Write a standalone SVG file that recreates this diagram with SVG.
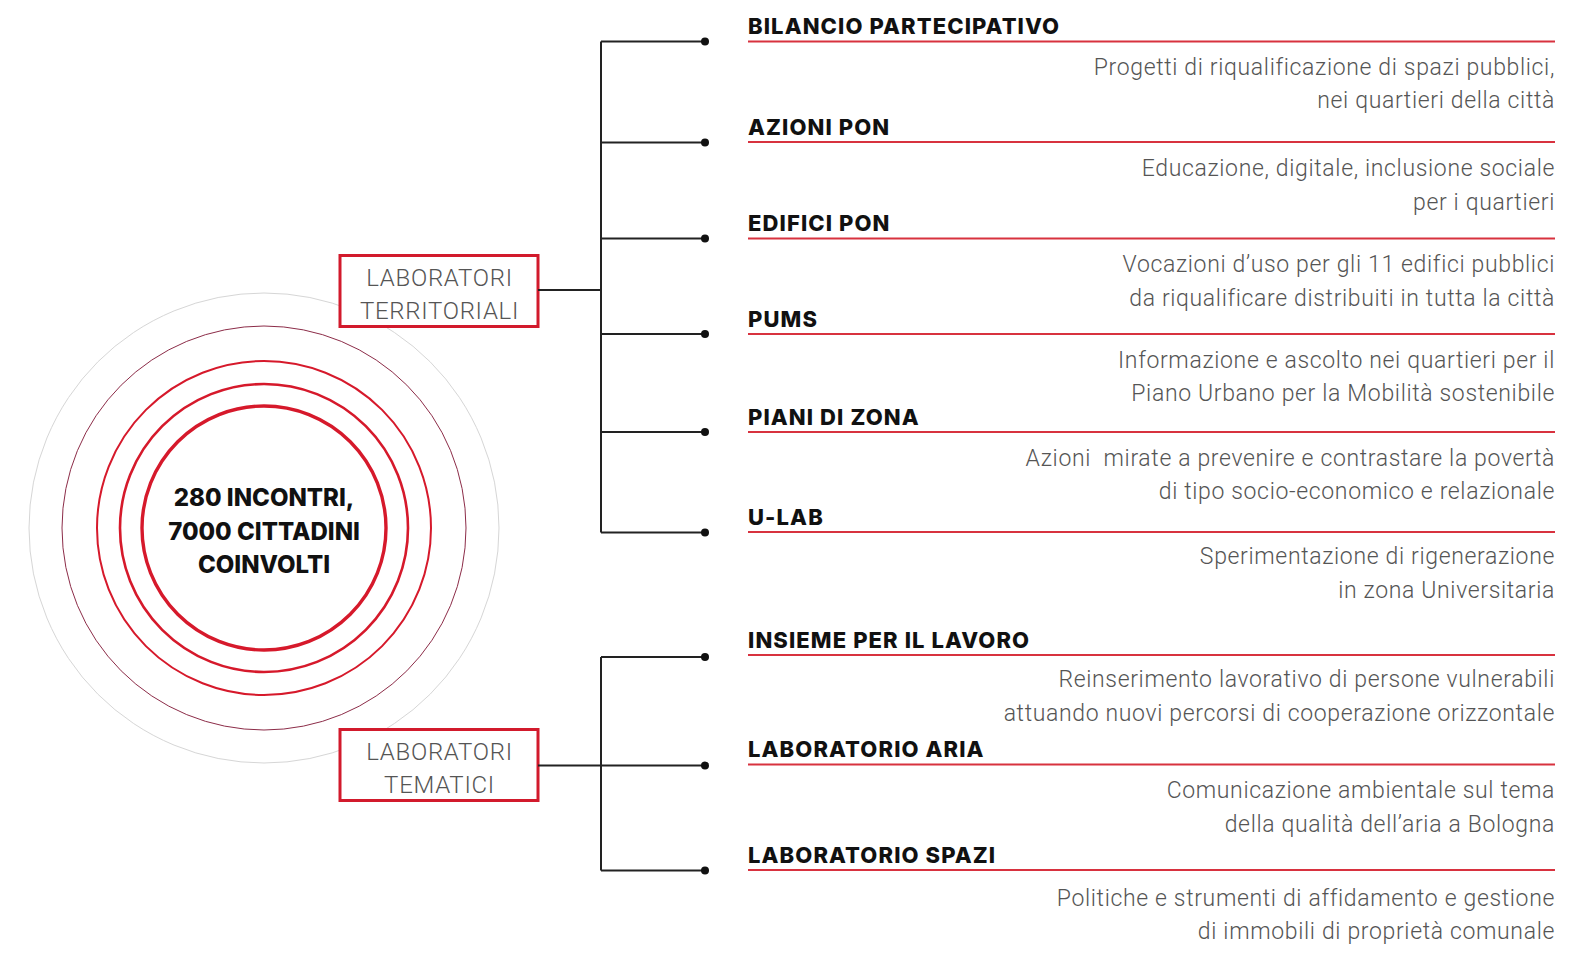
<svg xmlns="http://www.w3.org/2000/svg" width="1588" height="953" viewBox="0 0 1588 953">
<style>
.bg{fill:#ffffff}
.ring{fill:none}
.center{font-family:Inter,"Liberation Sans",sans-serif;font-weight:800;font-size:24px;fill:#111;text-anchor:middle}
.box{fill:#fff;stroke:#d21a2c;stroke-width:3}
.boxlbl{font-family:Roboto,"Liberation Sans",sans-serif;font-weight:300;font-size:24px;letter-spacing:0.7px;fill:#555;text-anchor:middle}
.conn{fill:none;stroke:#222;stroke-width:2}
.dot{fill:#111}
.head{font-family:Inter,"Liberation Sans",sans-serif;font-weight:800;font-size:22px;letter-spacing:1.1px;fill:#111}
.rule{stroke:#d8323f;stroke-width:2.2}
.desc{font-family:Roboto,"Liberation Sans",sans-serif;font-weight:300;font-size:23px;letter-spacing:0.65px;fill:#555;text-anchor:end}
</style>
<rect class="bg" x="0" y="0" width="1588" height="953"/>

<g id="center-node">
  <circle class="ring" cx="264" cy="528" r="235" stroke="#d6d6d6" stroke-width="1"/>
  <circle class="ring" cx="264" cy="528" r="202" stroke="#8c2c48" stroke-width="1"/>
  <circle class="ring" cx="264" cy="528" r="167" stroke="#d6192b" stroke-width="2"/>
  <circle class="ring" cx="264" cy="528" r="144" stroke="#d6192b" stroke-width="2.6"/>
  <circle class="ring" cx="264" cy="528" r="122" stroke="#d6192b" stroke-width="3.4"/>
  <text class="center" x="264" y="506">280 INCONTRI,</text>
  <text class="center" x="264" y="540">7000 CITTADINI</text>
  <text class="center" x="264" y="573">COINVOLTI</text>
</g>

<g id="lab-territoriali">
  <rect class="box" x="340" y="255.5" width="198" height="71"/>
  <text class="boxlbl" x="439.5" y="286">LABORATORI</text>
  <text class="boxlbl" x="439.5" y="319">TERRITORIALI</text>
</g>

<g id="lab-tematici">
  <rect class="box" x="340" y="729.5" width="198" height="71"/>
  <text class="boxlbl" x="439.5" y="760">LABORATORI</text>
  <text class="boxlbl" x="439.5" y="793">TEMATICI</text>
</g>

<g id="connectors">
  <path class="conn" d="M538 290 H601 M601 41.5 V532.5 M601 41.5 H705 M601 142.5 H705 M601 238.5 H705 M601 334 H705 M601 432 H705 M601 532.5 H705"/>
  <path class="conn" d="M538 765.5 H601 M601 657 V870.5 M601 657 H705 M601 765.5 H705 M601 870.5 H705"/>
  <circle class="dot" cx="705" cy="41.5" r="4"/>
  <circle class="dot" cx="705" cy="142.5" r="4"/>
  <circle class="dot" cx="705" cy="238.5" r="4"/>
  <circle class="dot" cx="705" cy="334" r="4"/>
  <circle class="dot" cx="705" cy="432" r="4"/>
  <circle class="dot" cx="705" cy="532.5" r="4"/>
  <circle class="dot" cx="705" cy="657" r="4"/>
  <circle class="dot" cx="705" cy="765.5" r="4"/>
  <circle class="dot" cx="705" cy="870.5" r="4"/>
</g>

<g id="item-bilancio">
  <text class="head" x="748" y="34">BILANCIO PARTECIPATIVO</text>
  <line class="rule" x1="748" y1="41.5" x2="1555" y2="41.5"/>
  <text class="desc" x="1555" y="75">Progetti di riqualificazione di spazi pubblici,</text>
  <text class="desc" x="1555" y="108">nei quartieri della città</text>
</g>

<g id="item-azioni-pon">
  <text class="head" x="748" y="134.5">AZIONI PON</text>
  <line class="rule" x1="748" y1="142" x2="1555" y2="142"/>
  <text class="desc" x="1555" y="176">Educazione, digitale, inclusione sociale</text>
  <text class="desc" x="1555" y="210">per i quartieri</text>
</g>

<g id="item-edifici-pon">
  <text class="head" x="748" y="231">EDIFICI PON</text>
  <line class="rule" x1="748" y1="238.5" x2="1555" y2="238.5"/>
  <text class="desc" x="1555" y="272">Vocazioni d’uso per gli 11 edifici pubblici</text>
  <text class="desc" x="1555" y="306">da riqualificare distribuiti in tutta la città</text>
</g>

<g id="item-pums">
  <text class="head" x="748" y="326.5">PUMS</text>
  <line class="rule" x1="748" y1="334" x2="1555" y2="334"/>
  <text class="desc" x="1555" y="368">Informazione e ascolto nei quartieri per il</text>
  <text class="desc" x="1555" y="401">Piano Urbano per la Mobilità sostenibile</text>
</g>

<g id="item-piani-di-zona">
  <text class="head" x="748" y="424.5">PIANI DI ZONA</text>
  <line class="rule" x1="748" y1="432" x2="1555" y2="432"/>
  <text class="desc" x="1555" y="466" xml:space="preserve">Azioni  mirate a prevenire e contrastare la povertà</text>
  <text class="desc" x="1555" y="499">di tipo socio-economico e relazionale</text>
</g>

<g id="item-u-lab">
  <text class="head" x="748" y="524.5">U-LAB</text>
  <line class="rule" x1="748" y1="532" x2="1555" y2="532"/>
  <text class="desc" x="1555" y="564">Sperimentazione di rigenerazione</text>
  <text class="desc" x="1555" y="598">in zona Universitaria</text>
</g>

<g id="item-insieme">
  <text class="head" x="748" y="647.5">INSIEME PER IL LAVORO</text>
  <line class="rule" x1="748" y1="655" x2="1555" y2="655"/>
  <text class="desc" x="1555" y="687">Reinserimento lavorativo di persone vulnerabili</text>
  <text class="desc" x="1555" y="721">attuando nuovi percorsi di cooperazione orizzontale</text>
</g>

<g id="item-aria">
  <text class="head" x="748" y="757">LABORATORIO ARIA</text>
  <line class="rule" x1="748" y1="764.5" x2="1555" y2="764.5"/>
  <text class="desc" x="1555" y="798">Comunicazione ambientale sul tema</text>
  <text class="desc" x="1555" y="832">della qualità dell’aria a Bologna</text>
</g>

<g id="item-spazi">
  <text class="head" x="748" y="862.5">LABORATORIO SPAZI</text>
  <line class="rule" x1="748" y1="870" x2="1555" y2="870"/>
  <text class="desc" x="1555" y="906">Politiche e strumenti di affidamento e gestione</text>
  <text class="desc" x="1555" y="939">di immobili di proprietà comunale</text>
</g>
</svg>
